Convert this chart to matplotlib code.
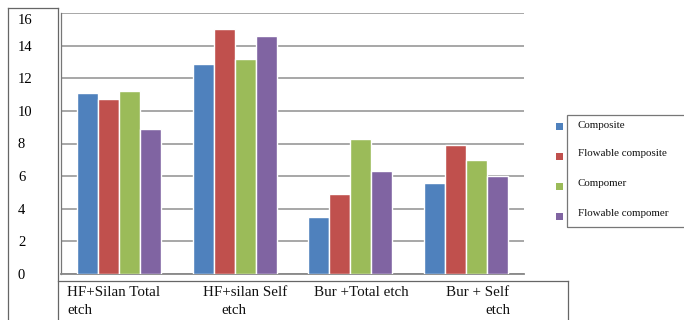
import matplotlib
matplotlib.use("Agg")
import matplotlib.pyplot as plt
import matplotlib.transforms as mtransforms
from matplotlib.patches import Rectangle
from matplotlib.lines import Line2D
import numpy as np

plt.rcParams['font.family'] = ['Liberation Serif', 'DejaVu Serif']

# Data
categories = [["HF+Silan Total", "etch"],
              ["HF+silan Self", "etch"],
              ["Bur +Total etch"],
              ["Bur + Self", "etch"]]
series_names = ["Composite", "Flowable composite", "Compomer", "Flowable compomer"]
composite = [11.1, 12.9, 3.5, 5.6]
flowable_composite = [10.7, 15.0, 4.9, 7.9]
compomer = [11.2, 13.2, 8.3, 7.0]
flowable_compomer = [8.9, 14.6, 6.3, 6.0]
yticks = [0, 2, 4, 6, 8, 10, 12, 14, 16]
ytick_labels = ["0", "2", "4", "6", "8", "10", "12", "14", "16"]

series = [composite, flowable_composite, compomer, flowable_compomer]
colors = ["#4F81BD", "#C0504D", "#9BBB59", "#8064A2"]

W, H = 684, 320
fig = plt.figure(figsize=(W / 100, H / 100), dpi=100)

def fx(px):
    return px / W

def fy(py):
    return 1 - py / H

ax = fig.add_axes([fx(61), fy(274), fx(524 - 61), (274 - 13) / H])

x = np.arange(len(categories))
bw = 0.181
for i, (vals, col) in enumerate(zip(series, colors)):
    ax.bar(x + (i - 1.5) * bw, vals, width=bw, color=col,
           edgecolor="white", linewidth=1.0, zorder=3)

ax.set_xlim(-0.5, len(categories) - 0.5)
ax.set_ylim(0, 16)
ax.set_yticks(yticks)
ax.set_yticklabels(ytick_labels, fontsize=10.5)
ax.tick_params(axis="y", length=0, pad=31)
for lab in ax.get_yticklabels():
    lab.set_ha("left")
# keep the top label clear of the frame line
top_lab = ax.get_yticklabels()[-1]
top_lab.set_transform(top_lab.get_transform() +
                      mtransforms.ScaledTranslation(0, -6 / 100, fig.dpi_scale_trans))
ax.set_xticks([])
ax.grid(axis="y", color="#a0a0a0", linewidth=1.3, zorder=0)
ax.spines["top"].set_visible(False)
ax.spines["right"].set_visible(False)
ax.spines["left"].set_color("#777777")
ax.spines["left"].set_linewidth(0.9)
ax.spines["bottom"].set_color("#888888")
ax.spines["bottom"].set_linewidth(1.3)

# Category labels, line by line, offset from each category centre (pixels)
line_offsets = [[(-52, -18), (-52, -37)],
                [(-32, -18), (-13, -37)],
                [(-36, -18)],
                [(-20, -18), (19, -37)]]
for ci, (lines, offs) in enumerate(zip(categories, line_offsets)):
    for txt, (dx, dy) in zip(lines, offs):
        ax.annotate(txt, xy=(ci, 0), xycoords=("data", "axes fraction"),
                    xytext=(dx, dy), textcoords="offset pixels",
                    ha="left", va="center", fontsize=10.8, color="#111111",
                    annotation_clip=False)

# Frame boxes around the axis label areas
box_col = "#666666"
def fline(x0, y0, x1, y1, lw=0.9):
    fig.add_artist(Line2D([fx(x0), fx(x1)], [fy(y0), fy(y1)],
                          color=box_col, linewidth=lw))

fline(8, 8, 58, 8)
fline(8, 8, 8, 330)
fline(58, 8, 58, 330)
fline(58, 280.5, 568, 280.5)
fline(568, 280.5, 568, 330)

# Legend
fig.add_artist(Rectangle((fx(567), fy(227)), fx(140), 112 / H, fill=False,
                         edgecolor="#777777", linewidth=0.9))
text_y = [125, 153, 183, 214]
mark_y = [126, 156, 186, 216]
for name, col, ty, my in zip(series_names, colors, text_y, mark_y):
    fig.add_artist(Rectangle((fx(555.5), fy(my + 3.5)), fx(7), 7 / H,
                             facecolor=col, edgecolor="none"))
    fig.text(fx(578), fy(ty), name, ha="left", va="center", fontsize=7.9,
             color="#111111")

fig.savefig("out.png", dpi=100)
